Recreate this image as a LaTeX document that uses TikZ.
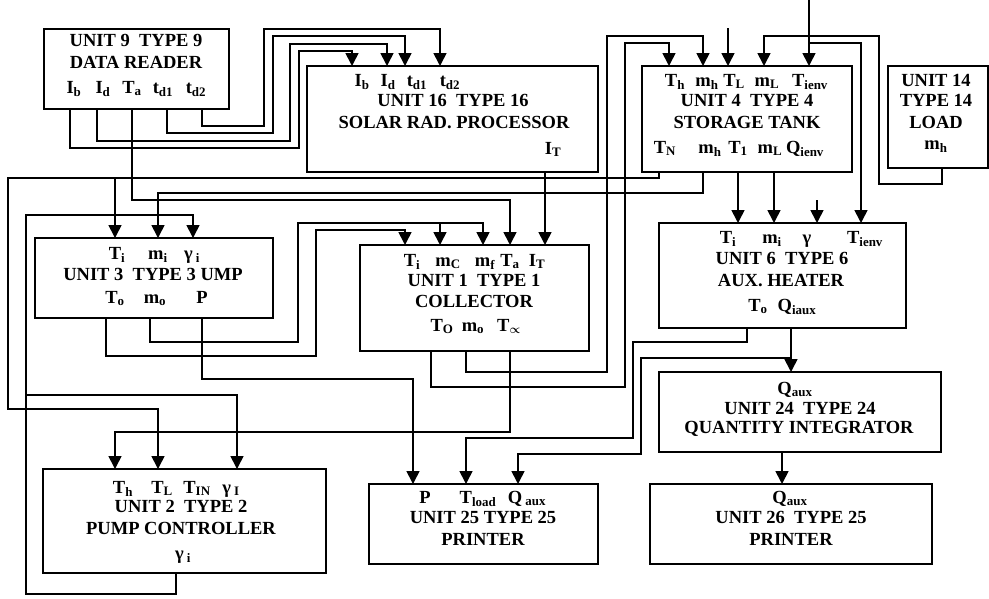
\documentclass[tikz,border=0pt]{standalone}
\usepackage{fontspec}
\setmainfont{Liberation Serif}
\usetikzlibrary{arrows.meta}
\newcommand{\sbs}[1]{\textsubscript{#1}}

\tikzset{
    unitbox/.style={draw, line width=1.7pt, inner sep=0pt},
    lbl/.style={inner sep=0pt, anchor=base, yshift=-6pt,
        font=\fontsize{18.5}{22}\selectfont\bfseries},
    wire/.style={line width=1.7pt},
    feed/.style={wire, -{Triangle[length=13pt,width=13pt]}},
}

\begin{document}
\begin{tikzpicture}[x=1pt,y=-1pt]
    \useasboundingbox (0,0) rectangle (989,598);

    % units
    \node[unitbox, minimum width=185, minimum height=80] (u9) at (136.5,69) {};
    \node[unitbox, minimum width=291, minimum height=106] (u16) at (452.5,119) {};
    \node[unitbox, minimum width=210, minimum height=106] (u4) at (747,119) {};
    \node[unitbox, minimum width=100, minimum height=102] (u14) at (938,117) {};
    \node[unitbox, minimum width=238, minimum height=80] (u3) at (154,278) {};
    \node[unitbox, minimum width=229, minimum height=106] (u1) at (474.5,298) {};
    \node[unitbox, minimum width=247, minimum height=105] (u6) at (782.5,275.5) {};
    \node[unitbox, minimum width=282, minimum height=80] (u24) at (800,412) {};
    \node[unitbox, minimum width=283, minimum height=104] (u2) at (184.5,521) {};
    \node[unitbox, minimum width=229, minimum height=80] (u25) at (483.5,524) {};
    \node[unitbox, minimum width=282, minimum height=80] (u26) at (791,524) {};

    % texts
    \node[lbl] (u9a) at (136,40) {UNIT 9~ TYPE 9};
    \node[lbl] (u9b) at (136,62) {DATA READER};
    \foreach \x/\t [count=\k] in {74/I\sbs{b}, 103/I\sbs{d}, 132/T\sbs{a}, 163/t\sbs{d1}, 196/t\sbs{d2}}
        \node[lbl] (u9o\k) at (\x,87) {\t};

    \foreach \x/\t [count=\k] in {362/I\sbs{b}, 388/I\sbs{d}, 417/t\sbs{d1}, 450/t\sbs{d2}}
        \node[lbl] (u16i\k) at (\x,80) {\t};
    \node[lbl] (u16a) at (453,100) {UNIT 16~ TYPE 16};
    \node[lbl] (u16b) at (454,122) {SOLAR RAD. PROCESSOR};
    \node[lbl] (u16o) at (553,148) {I\sbs{T}};

    \foreach \x/\t [count=\k] in {675/T\sbs{h}, 707/m\sbs{h}, 734/T\sbs{L}, 767/m\sbs{L}, 810/T\sbs{ienv}}
        \node[lbl] (u4i\k) at (\x,80) {\t};
    \node[lbl] (u4a) at (747,100) {UNIT 4~ TYPE 4};
    \node[lbl] (u4b) at (747,122) {STORAGE TANK};
    \foreach \x/\t [count=\k] in {665/T\sbs{N}, 710/m\sbs{h}, 738/T\sbs{1}, 770/m\sbs{L}, 805/Q\sbs{ienv}}
        \node[lbl] (u4o\k) at (\x,147) {\t};

    \node[lbl] (u14a) at (936,80) {UNIT 14};
    \node[lbl] (u14b) at (936,100) {TYPE 14};
    \node[lbl] (u14c) at (936,122) {LOAD};
    \node[lbl] (u14d) at (936,143) {m\sbs{h}};

    \foreach \x/\t [count=\k] in {117/T\sbs{i}, 158/m\sbs{i}, 192/γ\,\sbs{i}}
        \node[lbl] (u3i\k) at (\x,253) {\t};
    \node[lbl] (u3a) at (153,274) {UNIT 3~ TYPE 3 UMP};
    \foreach \x/\t [count=\k] in {115/T\sbs{o}, 155/m\sbs{o}, 202/P}
        \node[lbl] (u3o\k) at (\x,297) {\t};

    \foreach \x/\t [count=\k] in {412/T\sbs{i}, 448/m\sbs{C}, 485/m\sbs{f}, 510/T\sbs{a}, 537/I\sbs{T}}
        \node[lbl] (u1i\k) at (\x,260) {\t};
    \node[lbl] (u1a) at (474,280) {UNIT 1~ TYPE 1};
    \node[lbl] (u1b) at (474,301) {COLLECTOR};
    \foreach \x/\t [count=\k] in {442/T\sbs{O}, 473/m\sbs{o}, 509/T\sbs{\boldmath$\propto$}}
        \node[lbl] (u1o\k) at (\x,325) {\t};

    \foreach \x/\t [count=\k] in {728/T\sbs{i}, 772/m\sbs{i}, 807/γ, 865/T\sbs{ienv}}
        \node[lbl] (u6i\k) at (\x,237) {\t};
    \node[lbl] (u6a) at (782,258) {UNIT 6~ TYPE 6};
    \node[lbl] (u6b) at (781,280) {AUX. HEATER};
    \foreach \x/\t [count=\k] in {758/T\sbs{o}, 797/Q\sbs{iaux}}
        \node[lbl] (u6o\k) at (\x,305) {\t};

    \node[lbl] (u24i) at (795,388) {Q\sbs{aux}};
    \node[lbl] (u24a) at (800,408) {UNIT 24~ TYPE 24};
    \node[lbl] (u24b) at (799,427) {QUANTITY INTEGRATOR};

    \node[lbl] (u26i) at (790,497) {Q\sbs{aux}};
    \node[lbl] (u26a) at (791,517) {UNIT 26~ TYPE 25};
    \node[lbl] (u26b) at (791,539) {PRINTER};

    \foreach \x/\t [count=\k] in {425/P, 478/T\sbs{load}, 527/Q\,\sbs{aux}}
        \node[lbl] (u25i\k) at (\x,497) {\t};
    \node[lbl] (u25a) at (483,517) {UNIT 25 TYPE 25};
    \node[lbl] (u25b) at (483,539) {PRINTER};

    \foreach \x/\t [count=\k] in {123/T\sbs{h}, 162/T\sbs{L}, 197/T\sbs{IN}, 231/γ\,\sbs{I}}
        \node[lbl] (u2i\k) at (\x,487) {\t};
    \node[lbl] (u2a) at (181,506) {UNIT 2~ TYPE 2};
    \node[lbl] (u2b) at (181,528) {PUMP CONTROLLER};
    \node[lbl] (u2o) at (183,553) {γ\,\sbs{i}};

    % ports
    \foreach \p/\x in {Ib/70, Id/97, Ta/132, td1/167, td2/202}
        \coordinate (u9-\p) at (\x,109);
    \foreach \p/\x in {Ib/352, Id/387, td1/405, td2/440}
        \coordinate (u16-\p) at (\x,66);
    \coordinate (u16-IT) at (545,172);
    \foreach \p/\x in {Th/669, mh/703, TL/728, mL/764, Tienv/809}
        \coordinate (u4-\p) at (\x,66);
    \foreach \p/\x in {TN/659, mho/703, T1/738, mLo/774}
        \coordinate (u4-\p) at (\x,172);
    \coordinate (u14-mh) at (942,168);
    \foreach \p/\x in {Ti/115, mi/158, gi/193}
        \coordinate (u3-\p) at (\x,238);
    \foreach \p/\x in {To/106, mo/150, P/202}
        \coordinate (u3-\p) at (\x,318);
    \foreach \p/\x in {Ti/405, mC/440, mf/483, Ta/510, IT/545}
        \coordinate (u1-\p) at (\x,245);
    \foreach \p/\x in {TO/431, mo/466, Tinf/510}
        \coordinate (u1-\p) at (\x,351);
    \foreach \p/\x in {Ti/738, mi/774, g/817, Tienv/861}
        \coordinate (u6-\p) at (\x,223);
    \foreach \p/\x in {To/747, Qaux/791}
        \coordinate (u6-\p) at (\x,328);
    \coordinate (u24-Qaux) at (791,372);
    \coordinate (u24-out) at (782,452);
    \coordinate (u26-Qaux) at (782,484);
    \foreach \p/\x in {P/413, Tload/466, Qaux/518}
        \coordinate (u25-\p) at (\x,484);
    \foreach \p/\x in {Th/115, TL/158, gI/237}
        \coordinate (u2-\p) at (\x,469);
    \coordinate (u2-gi) at (176,573);

    % free ends and junctions
    \coordinate (envT) at (809,0);
    \coordinate (freeTL) at (728,28);
    \coordinate (freeG) at (817,200);
    \coordinate (jEnv) at (809,43);
    \coordinate (jTN) at (115,178);
    \coordinate (jQaux) at (791,358);
    \coordinate (jmo) at (440,223);
    \coordinate (jgi) at (26,395);

    % connections
    \draw[feed] (u9-Ib) |- (299,148) |- (352,51) -- (u16-Ib);
    \draw[feed] (u9-Id) |- (290,141) |- (387,44) -- (u16-Id);
    \draw[feed] (u9-td1) |- (273,133) |- (405,36) -- (u16-td1);
    \draw[feed] (u9-td2) |- (264,126) |- (440,29) -- (u16-td2);
    \draw[feed] (u9-Ta) |- (510,200) -- (u1-Ta);
    \draw[feed] (u16-IT) -- (u1-IT);
    \draw[feed] (u4-TN) |- (8,178) |- (158,409) -- (u2-TL);
    \draw[feed] (jTN) -- (u3-Ti);
    \draw[feed] (u4-mho) |- (158,193) -- (u3-mi);
    \draw[feed] (u1-TO) |- (625,387) |- (669,43) -- (u4-Th);
    \draw[feed] (u1-mo) |- (607,372) |- (703,36) -- (u4-mh);
    \draw[feed] (u14-mh) |- (879,184) |- (764,36) -- (u4-mL);
    \draw[feed] (envT) -- (u4-Tienv);
    \draw[feed] (jEnv) -| (u6-Tienv);
    \draw[feed] (freeTL) -- (u4-TL);
    \draw[feed] (u4-T1) -- (u6-Ti);
    \draw[feed] (u4-mLo) -- (u6-mi);
    \draw[feed] (freeG) -- (u6-g);
    \draw[feed] (u6-To) |- (633,342) |- (466,438) -- (u25-Tload);
    \draw[feed] (u6-Qaux) -- (u24-Qaux);
    \draw[feed] (jQaux) -| (641,454) -| (u25-Qaux);
    \draw[feed] (u24-out) -- (u26-Qaux);
    \draw[feed] (u3-To) |- (316,356) |- (405,230) -- (u1-Ti);
    \draw[feed] (u3-mo) |- (298,342) |- (483,223) -- (u1-mf);
    \draw[feed] (jmo) -- (u1-mC);
    \draw[feed] (u3-P) |- (413,379) -- (u25-P);
    \draw[feed] (u1-Tinf) |- (115,432) -- (u2-Th);
    \draw[feed] (u2-gi) |- (26,594) |- (193,215) -- (u3-gi);
    \draw[feed] (jgi) -| (u2-gI);
\end{tikzpicture}
\end{document}
